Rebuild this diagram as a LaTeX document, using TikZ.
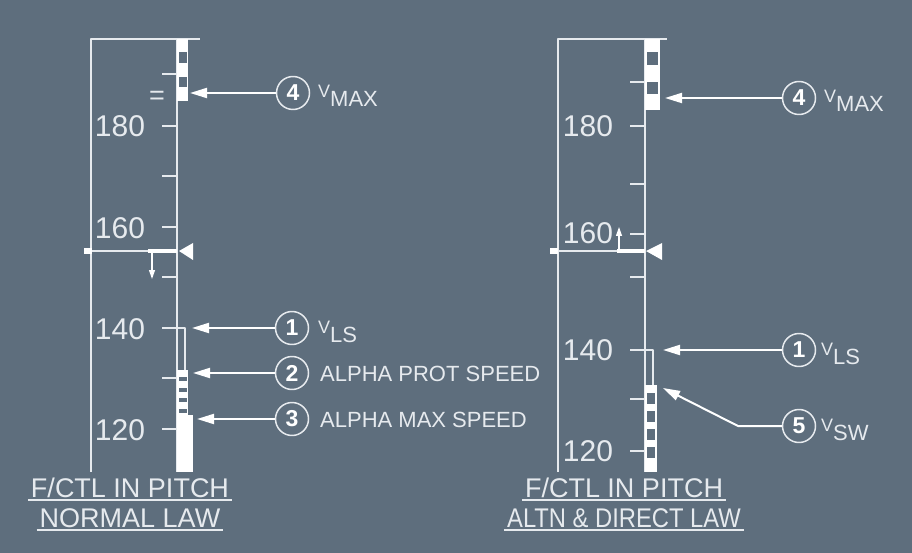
\documentclass[tikz,border=0pt]{standalone}
\usepackage{fontspec}
\setmainfont{Liberation Sans}
\usetikzlibrary{arrows.meta,positioning}
\definecolor{panel}{HTML}{5E6E7D}
\definecolor{ink}{HTML}{E6EAEE}
\newcommand\vsub[1]{{\fontsize{18}{18}\selectfont V}\raisebox{-9pt}{#1}}
\begin{document}
\begin{tikzpicture}[x=1pt,y=-1pt,line join=round,
	ln/.style={draw=ink,line width=1.5pt},
	gap/.style={fill=panel},
	num/.style={text=ink,font=\fontsize{30}{30}\selectfont,inner sep=0pt},
	lbl/.style={text=ink,font=\fontsize{22}{22}\selectfont,inner sep=0pt,anchor=base west},
	ttl/.style={text=ink,font=\fontsize{27}{27}\selectfont,inner sep=0pt,anchor=base},
	callno/.style={circle,draw=ink,line width=1.5pt,minimum size=33pt,inner sep=0pt,text=white,font=\fontsize{23}{23}\selectfont\bfseries},
	callarrow/.style={draw=white,line width=2pt,-{Triangle[length=17pt,width=10pt]}},
	trend/.style={draw=white,line width=1.2pt,-{Triangle[length=9pt,width=6pt]}}]
	\fill[panel] (0,0) rectangle (912,553);
	\useasboundingbox (0,0) rectangle (912,553);
	% ---------- normal law ----------
	\draw[ln] (91,472) |- (200,39);
	\draw[ln] (177,39) -- (177,472);
	\foreach \y in {74,126,176,227,277,378,429}
		\draw[ln] (162,\y) -- (177,\y);
	\draw[ln] (162,328) -| (185,370);
	\node[num] (n180l) at (120,126) {180};
	\node[num] (n160l) at (120,228) {160};
	\node[num] (n140l) at (120,329) {140};
	\node[num] (n120l) at (120,430) {120};
	\node[text=ink,font=\fontsize{27}{27}\selectfont,inner sep=0pt] (eq) at (157,98) {=};
	% vmax
	\fill[white] (177,39) rectangle (188,101);
	\fill[gap] (179,52) rectangle (187,63);
	\fill[gap] (179,77) rectangle (187,87);
	% alpha prot / alpha max
	\fill[white] (177,370) rectangle (188,415);
	\foreach \y in {377,388,398,409}
		\fill[gap] (179,\y) rectangle (187,\y+4);
	\fill[white] (177,415) rectangle (193,472);
	% speed reference
	\draw[ink,line width=1.2pt] (88,251) -- (177,251);
	\draw[white,line width=4pt] (148,251) -- (177,251);
	\fill[white] (84,248) rectangle (92,254);
	\fill[white] (179,251) -- (193,243) -- (193,260) -- cycle;
	\coordinate (trl) at (152,251);
	\coordinate (trle) at (152,279);
	\draw[trend] (trl) -- (trle);
	% callouts
	\node[callno] (c4l) at (293,93) {4};
	\node[callno] (c1l) at (292,328) {1};
	\node[callno] (c2l) at (292,373) {2};
	\node[callno] (c3l) at (292,419) {3};
	\coordinate (t4l) at (190,93);
	\coordinate (t1l) at (192,328);
	\coordinate (t2l) at (193,373);
	\coordinate (t3l) at (197,419);
	\draw[callarrow] (c4l) -- (t4l);
	\draw[callarrow] (c1l) -- (t1l);
	\draw[callarrow] (c2l) -- (t2l);
	\draw[callarrow] (c3l) -- (t3l);
	\node[lbl] (vmaxl) at (318,98) {\vsub{MAX}};
	\node[lbl] (vlsl) at (318,333) {\vsub{LS}};
	\node[lbl] (aprot) at (320,381) {ALPHA PROT SPEED};
	\node[lbl] (amax) at (320,427) {ALPHA MAX SPEED};
	\node[ttl] (ttl1l) at (130,497) {F/CTL IN PITCH};
	\node[ttl] (ttl2l) at (130,527) {NORMAL LAW};
	\draw[ln] ([xshift=-3pt,yshift=-3pt]ttl1l.base west) -- ([xshift=3pt,yshift=-3pt]ttl1l.base east);
	\draw[ln] ([xshift=-3pt,yshift=-3pt]ttl2l.base west) -- ([xshift=3pt,yshift=-3pt]ttl2l.base east);
	% ---------- altn & direct law ----------
	\draw[ln] (558,472) |- (667,39);
	\draw[ln] (645,39) -- (645,472);
	\foreach \y in {82,126,184,234,277,399,451}
		\draw[ln] (630,\y) -- (645,\y);
	\draw[ln] (630,350) -| (653,386);
	\node[num] (n180r) at (588,126) {180};
	\node[num] (n160r) at (588,233) {160};
	\node[num] (n140r) at (588,350) {140};
	\node[num] (n120r) at (588,451) {120};
	% vmax
	\fill[white] (645,39) rectangle (660,110);
	\fill[gap] (647,52) rectangle (658,65);
	\fill[gap] (647,82) rectangle (658,94);
	% vsw
	\fill[white] (645,385) rectangle (657,472);
	\foreach \y in {393,411,429,447}
		\fill[gap] (647,\y) rectangle (655,\y+11);
	% speed reference
	\draw[ink,line width=1.2pt] (555,251) -- (645,251);
	\draw[white,line width=4pt] (617,251) -- (645,251);
	\fill[white] (550,248) rectangle (558,254);
	\fill[white] (646,251) -- (662,243) -- (662,260) -- cycle;
	\coordinate (trr) at (619,251);
	\coordinate (trre) at (619,227);
	\draw[trend] (trr) -- (trre);
	% callouts
	\node[callno] (c4r) at (799,98) {4};
	\node[callno] (c1r) at (799,350) {1};
	\node[callno] (c5r) at (799,426) {5};
	\coordinate (t4r) at (665,98);
	\coordinate (t1r) at (663,350);
	\coordinate (k5r) at (738,426);
	\coordinate (t5r) at (663,388);
	\draw[callarrow] (c4r) -- (t4r);
	\draw[callarrow] (c1r) -- (t1r);
	\draw[callarrow] (c5r) -- (k5r) -- (t5r);
	\node[lbl] (vmaxr) at (824,103) {\vsub{MAX}};
	\node[lbl] (vlsr) at (821,355) {\vsub{LS}};
	\node[lbl] (vswr) at (821,431) {\vsub{SW}};
	\node[ttl] (ttl1r) at (624,497) {F/CTL IN PITCH};
	\node[ttl] (ttl2r) at (624,527) {\scalebox{0.88}[1]{ALTN \& DIRECT LAW}};
	\draw[ln] ([xshift=-3pt,yshift=-3pt]ttl1r.base west) -- ([xshift=3pt,yshift=-3pt]ttl1r.base east);
	\draw[ln] ([xshift=-3pt,yshift=-3pt]ttl2r.base west) -- ([xshift=3pt,yshift=-3pt]ttl2r.base east);
\end{tikzpicture}
\end{document}
